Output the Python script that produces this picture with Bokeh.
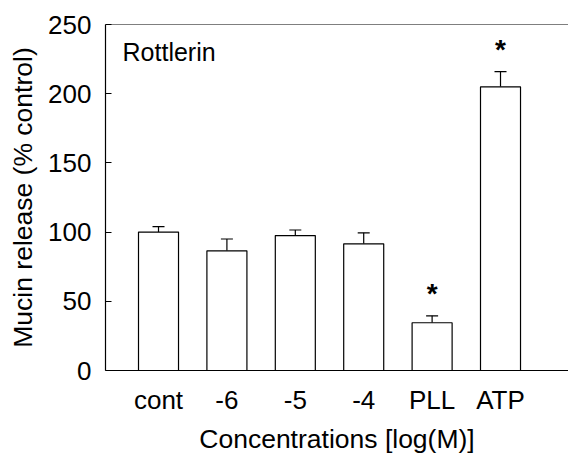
from bokeh.plotting import figure
from bokeh.models import (ColumnDataSource, Range1d, FixedTicker, Whisker, TeeHead,
                          Span, Label)
from bokeh.core.properties import value
from bokeh.embed import file_html
from bokeh.resources import INLINE

# ---- data ----
categories = ["cont", "-6", "-5", "-4", "PLL", "ATP"]
release = [100, 86.5, 97.5, 91.5, 34.5, 205]
sem = [4, 8.5, 4, 8, 5, 11]
significant = ["", "", "", "", "*", "*"]
x_title = "Concentrations [log(M)]"
y_title = "Mucin release (% control)"

FONT = "Liberation Sans"
xpos = list(range(len(categories)))
upper = [r + s for r, s in zip(release, sem)]

src = ColumnDataSource(dict(x=xpos, top=release, upper=upper,
                            star=significant,
                            star_y=[u + 16 for u in upper]))

x0, x1 = -0.775, 5.994
p = figure(width=568, height=456, output_backend="svg", toolbar_location=None,
           x_range=Range1d(x0, x1), y_range=Range1d(0, 250),
           min_border_left=105, min_border_right=0, min_border_top=24,
           min_border_bottom=85)
p.outline_line_color = None
p.grid.grid_line_color = None
p.background_fill_color = "white"
p.border_fill_color = "white"

p.vbar(x="x", top="top", width=0.585, bottom=0, source=src,
       fill_color="white", line_color="black", line_width=1.2)

wh = Whisker(base="x", lower="top", upper="upper", source=src,
             dimension="height", line_color="black", line_width=1.2,
             upper_head=TeeHead(size=12, line_color="black", line_width=1.2),
             lower_head=None)
p.add_layout(wh)

p.text(x="x", y="star_y", text="star", source=src, text_align="center",
       text_baseline="middle", text_font=value(FONT), text_font_size="28px",
       text_font_style="bold", text_color="black")

p.add_layout(Span(location=250, dimension="width", line_color="black",
                  line_width=1.2))

p.add_layout(Label(x=-0.526, y=229.8, text="Rottlerin", text_font=FONT,
                   text_font_size="25px", text_align="left",
                   text_baseline="middle", text_color="black"))

# x axis
p.xaxis.ticker = FixedTicker(ticks=xpos)
p.xaxis.major_label_overrides = {i: c for i, c in enumerate(categories)}
p.xaxis.minor_tick_line_color = None
p.xaxis.major_label_standoff = 8
p.xaxis.axis_label = x_title
p.xaxis.axis_label_standoff = 6

# y axis
p.yaxis.ticker = FixedTicker(ticks=[0, 50, 100, 150, 200, 250])
p.yaxis.major_tick_in = 6
p.yaxis.major_tick_out = 0
p.yaxis.minor_tick_line_color = None
p.yaxis.major_label_standoff = 14
p.yaxis.axis_label = y_title
p.yaxis.axis_label_standoff = 7

for ax in (p.xaxis, p.yaxis):
    ax.axis_line_color = "black"
    ax.axis_line_width = 1.2
    ax.major_label_text_font = FONT
    ax.major_label_text_font_size = "26px"
    ax.major_label_text_color = "black"
    ax.axis_label_text_font = FONT
    ax.axis_label_text_font_size = "26.5px"
    ax.axis_label_text_font_style = "normal"
    ax.axis_label_text_color = "black"
p.yaxis.major_tick_line_color = "black"
p.xaxis.major_tick_line_color = None

open("out.html", "w").write(file_html(p, INLINE))
